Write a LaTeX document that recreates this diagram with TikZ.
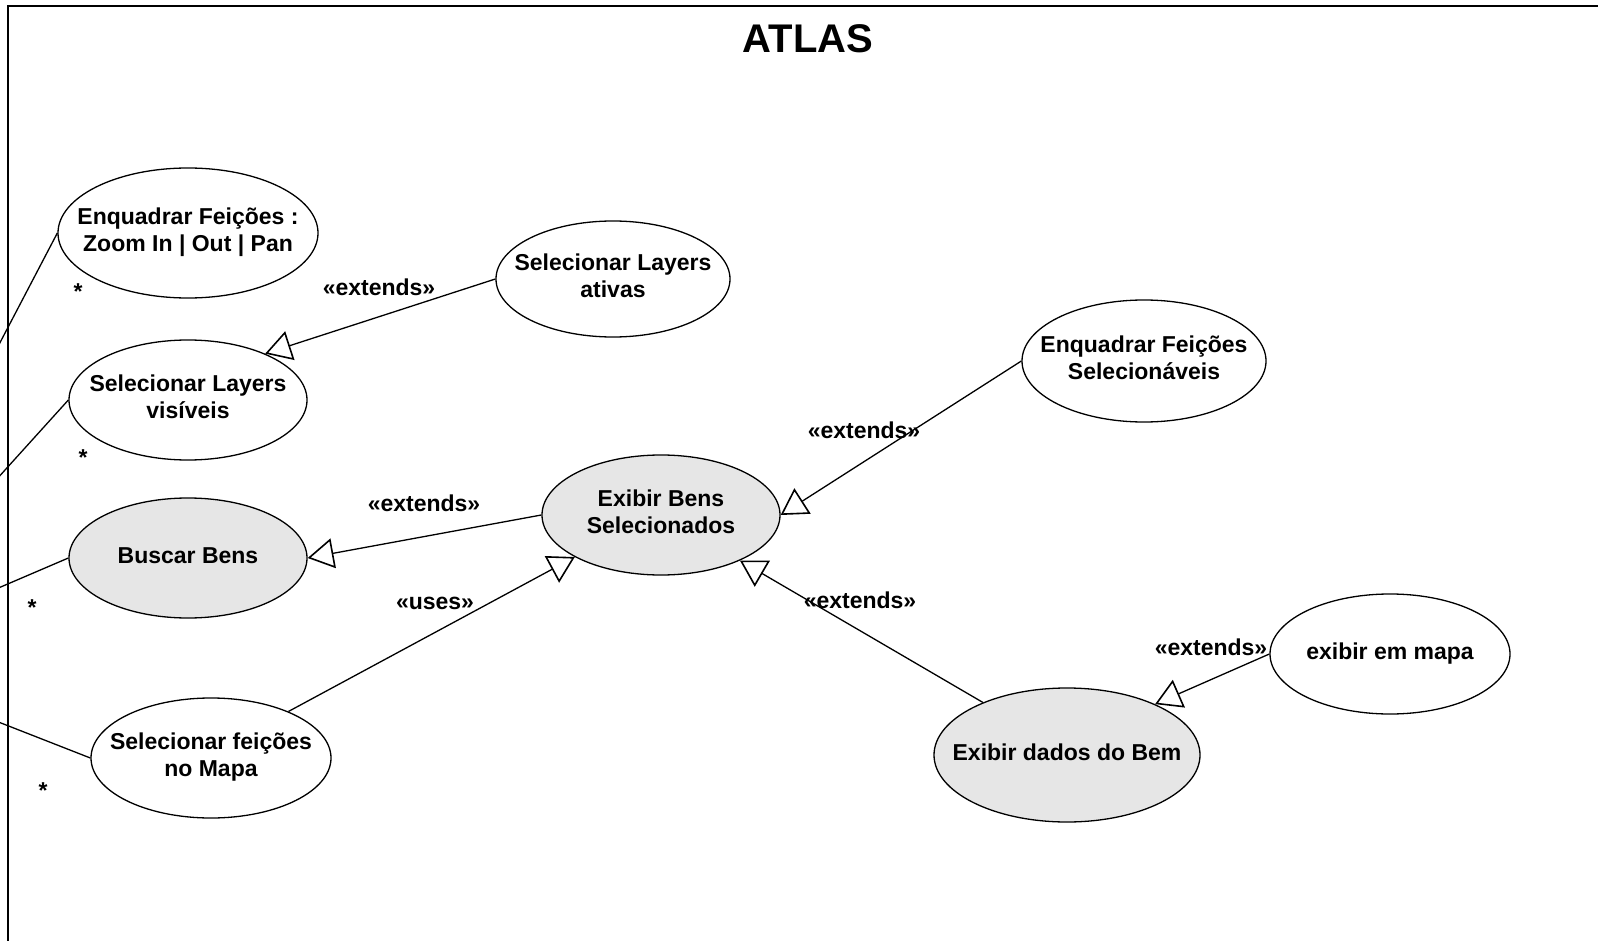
\documentclass[tikz,border=0pt]{standalone}
\usepackage{fontspec}
\setmainfont{Liberation Sans}
\usetikzlibrary{shapes.geometric,arrows.meta}

\definecolor{casegray}{RGB}{230,230,230}
\newcommand{\ucname}[1]{\makebox[0pt]{\begin{tabular}{@{}c@{}}#1\end{tabular}}}

\tikzset{
	usecase/.style={ellipse, draw, line width=1.3pt, fill=white, inner sep=0pt,
		font=\fontsize{23}{27}\selectfont\bfseries},
	extarrow/.style={line width=1.3pt, -{Triangle[open, length=26pt, width=30pt, line width=1.6pt]}},
	stereo/.style={font=\fontsize{23}{27}\selectfont\bfseries, inner sep=0pt},
}

\begin{document}
\begin{tikzpicture}[x=1pt, y=-1pt]
			\useasboundingbox (0,0) rectangle (1598,941);
			\clip (0,0) rectangle (1598,941);
			\draw[line width=2.5pt] (8,6) rectangle (1700,1000);
			\node[font=\fontsize{40}{48}\selectfont\bfseries] (title) at (808,39) {ATLAS};

			\coordinate (actor) at (-165,658);

			\begin{scope}[every node/.style={usecase}]
				\node[minimum width=260pt, minimum height=130pt] (enqzoom) at (188,233) {\ucname{Enquadrar Feições :\\Zoom In | Out | Pan}};
				\node[minimum width=238pt, minimum height=120pt] (layvis) at (188,400) {\ucname{Selecionar Layers\\visíveis}};
				\node[minimum width=238pt, minimum height=120pt, fill=casegray] (buscar) at (188,558) {\ucname{Buscar Bens}};
				\node[minimum width=240pt, minimum height=120pt] (selfeic) at (211,758) {\ucname{Selecionar feições\\no Mapa}};
				\node[minimum width=234pt, minimum height=116pt] (layativ) at (613,279) {\ucname{Selecionar Layers\\ativas}};
				\node[minimum width=238pt, minimum height=120pt, fill=casegray] (exbens) at (661,515) {\ucname{Exibir Bens\\Selecionados}};
				\node[minimum width=244pt, minimum height=122pt] (enqsel) at (1144,361) {\ucname{Enquadrar Feições\\Selecionáveis}};
				\node[minimum width=266pt, minimum height=134pt, fill=casegray] (exdados) at (1067,755) {\ucname{Exibir dados do Bem}};
				\node[minimum width=240pt, minimum height=120pt] (exmapa) at (1390,654) {\ucname{exibir em mapa}};
			\end{scope}

			% actor lines
			\draw[line width=1.3pt] (actor) -- (enqzoom.west);
			\draw[line width=1.3pt] (actor) -- (layvis.west);
			\draw[line width=1.3pt] (actor) -- (buscar.west);
			\draw[line width=1.3pt] (actor) -- (selfeic.west);

			\begin{scope}[every node/.style={stereo, anchor=base}]
				\node (m1) at (78,300) {*};
				\node (m2) at (83,465) {*};
				\node (m3) at (32,615) {*};
				\node (m4) at (43,798) {*};
			\end{scope}

			\draw[extarrow] (layativ.west) -- (layvis.31);
			\draw[extarrow] (exbens.west) -- (buscar.east);
			\draw[extarrow] (selfeic.31) -- (exbens.206);
			\draw[extarrow] (enqsel.west) -- (exbens.east);
			\draw[extarrow] (exdados.148) -- (exbens.330);
			\draw[extarrow] (exmapa.west) -- (exdados.30);

			\begin{scope}[every node/.style={stereo}]
				\node (s1) at (379,287) {«extends»};
				\node (s2) at (424,503) {«extends»};
				\node (s3) at (435,603) {«uses»};
				\node (s4) at (864,430) {«extends»};
				\node (s5) at (860,600) {«extends»};
				\node (s6) at (1211,647) {«extends»};
			\end{scope}
		\end{tikzpicture}
\end{document}
